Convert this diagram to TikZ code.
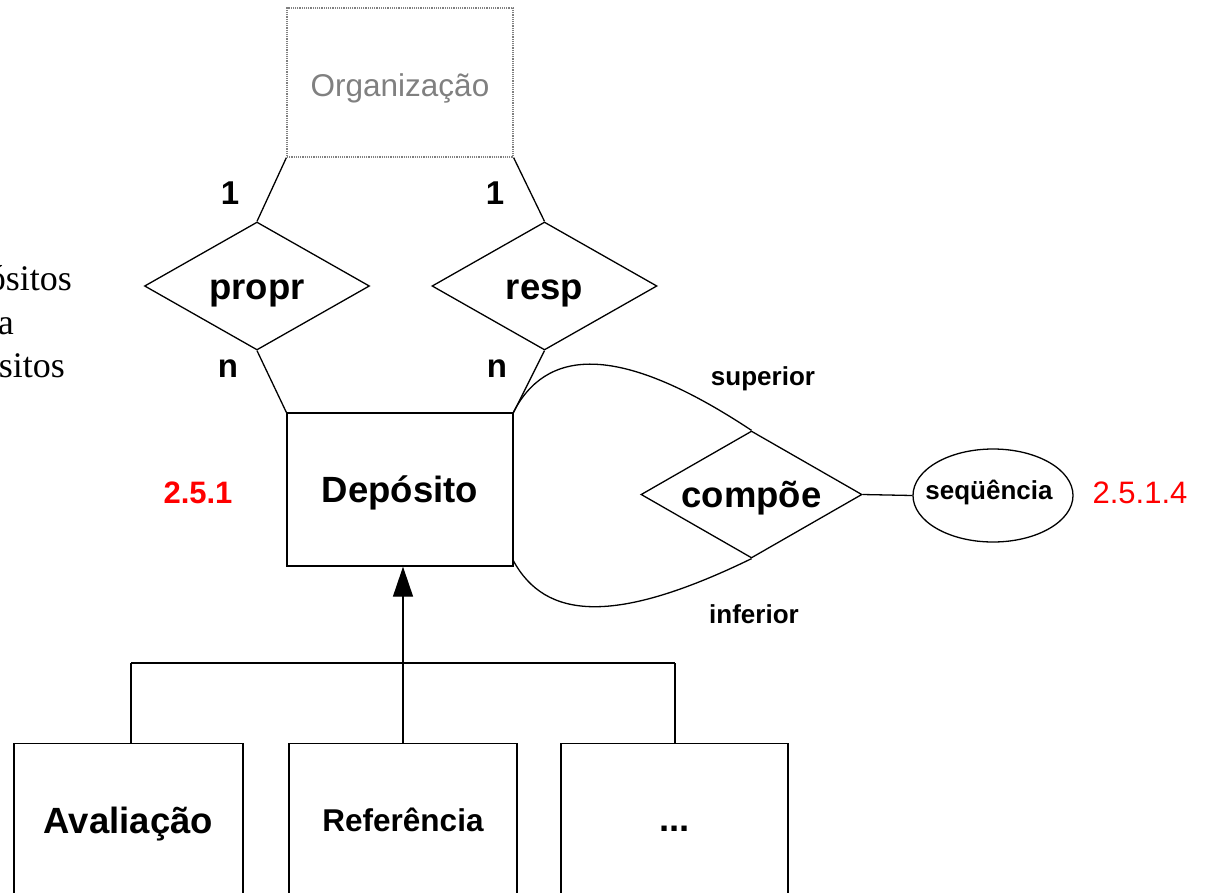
\documentclass[tikz,border=0pt]{standalone}
\usepackage{fontspec}
\setmainfont{Liberation Sans}
\newfontfamily\timesfont{Liberation Serif}
\usetikzlibrary{shapes.geometric,arrows.meta}
\definecolor{orggray}{RGB}{128,128,128}
\tikzset{
  ln/.style={line width=1.3pt, black},
  entbox/.style={draw, ln, rectangle, inner sep=0pt},
  relbox/.style={draw, ln, diamond, inner sep=0pt, aspect=2},
  big/.style={font=\fontsize{36.5}{40}\selectfont\bfseries, text height=26pt, text depth=0pt},
  card/.style={font=\fontsize{33}{36}\selectfont\bfseries},
  small/.style={font=\fontsize{26}{28}\selectfont\bfseries},
  redlbl/.style={text=red, font=\fontsize{31}{34}\selectfont},
  sidetxt/.style={font=\fontsize{36}{40}\timesfont, anchor=base east, inner sep=0pt},
}
\begin{document}
\begin{tikzpicture}[x=1pt,y=-1pt]
\useasboundingbox (0,0) rectangle (1205,892);
\clip (0,0) rectangle (1205,892);

% cut-off text at left edge
\node[sidetxt] (s1) at (72,290) {ósitos};
\node[sidetxt] (s2) at (14,334) {a};
\node[sidetxt] (s3) at (65,377) {sitos};

% Organizacao
\node[draw=orggray, densely dotted, line width=1.2pt, rectangle, minimum width=226pt, minimum height=149pt, inner sep=0pt] (org) at (400,82.5) {};
\node[text=orggray, font=\fontsize{31.5}{34}\selectfont, text height=22.5pt, text depth=0pt] (orgt) at (400,85.5) {Organização};

% relationships
\node[relbox, minimum width=225pt, minimum height=128pt, big] (propr) at (257,286) {propr};
\node[relbox, minimum width=225pt, minimum height=128pt, big] (resp) at (544.5,286) {resp};

% Deposito
\node[entbox, minimum width=226pt, minimum height=153pt, big] (dep) at (400,489.5) {Depósito};
\node[redlbl, font=\fontsize{31}{34}\selectfont\bfseries] (n251) at (198,493) {2.5.1};

\draw[ln] (org.south west) -- (propr.north);
\draw[ln] (org.south east) -- (resp.north);
\draw[ln] (propr.south) -- (dep.north west);
\draw[ln] (resp.south) -- (dep.north east);

\node[card] (c1) at (230,193) {1};
\node[card] (c2) at (495,193) {1};
\node[card] (c3) at (228,369) {n};
\node[card] (c4) at (497,369) {n};

% compoe
\node[relbox, minimum width=221pt, minimum height=127pt, big] (comp) at (751.5,494.5) {compõe};
\coordinate (dtop) at (513,413);
\coordinate (dbot) at (513,560);
\draw[ln] (dtop) .. controls (545,350) and (615,340) .. (comp.north);
\draw[ln] (dbot) .. controls (545,620) and (615,625) .. (comp.south);
\node[small] (sup) at (763,379) {superior};
\node[small] (inf) at (754,614) {inferior};

% attribute
\node[draw, ln, ellipse, minimum width=160pt, minimum height=93pt, inner sep=0pt] (seq) at (993,495.5) {};
\node[small] (seqt) at (989,492) {seqüência};
\draw[ln] (comp.east) -- (seq.west);
\node[redlbl] (n2514) at (1140,493) {2.5.1.4};

% specializations
\node[entbox, minimum width=229pt, minimum height=300pt, anchor=north] (aval) at (128.5,743) {};
\node[entbox, minimum width=228pt, minimum height=300pt, anchor=north] (ref) at (403,743) {};
\node[entbox, minimum width=227pt, minimum height=300pt, anchor=north] (etc) at (674.5,743) {};
\node[big] (tav) at (128.5,820) {Avaliação};
\node[font=\fontsize{31.5}{34}\selectfont\bfseries] (tref) at (403,820) {Referência};
\node[big] (tetc) at (674.5,818) {...};

\coordinate (hl) at (131,663);
\coordinate (hr) at (675,663);
\draw[ln] (hl) -- (hr);
\draw[ln] (hl) -- (131,743);
\draw[ln] (hr) -- (675,743);
\draw[ln, -{Triangle[length=30pt,width=20pt]}] (ref.north) -- (ref.north |- dep.south);
\end{tikzpicture}
\end{document}
